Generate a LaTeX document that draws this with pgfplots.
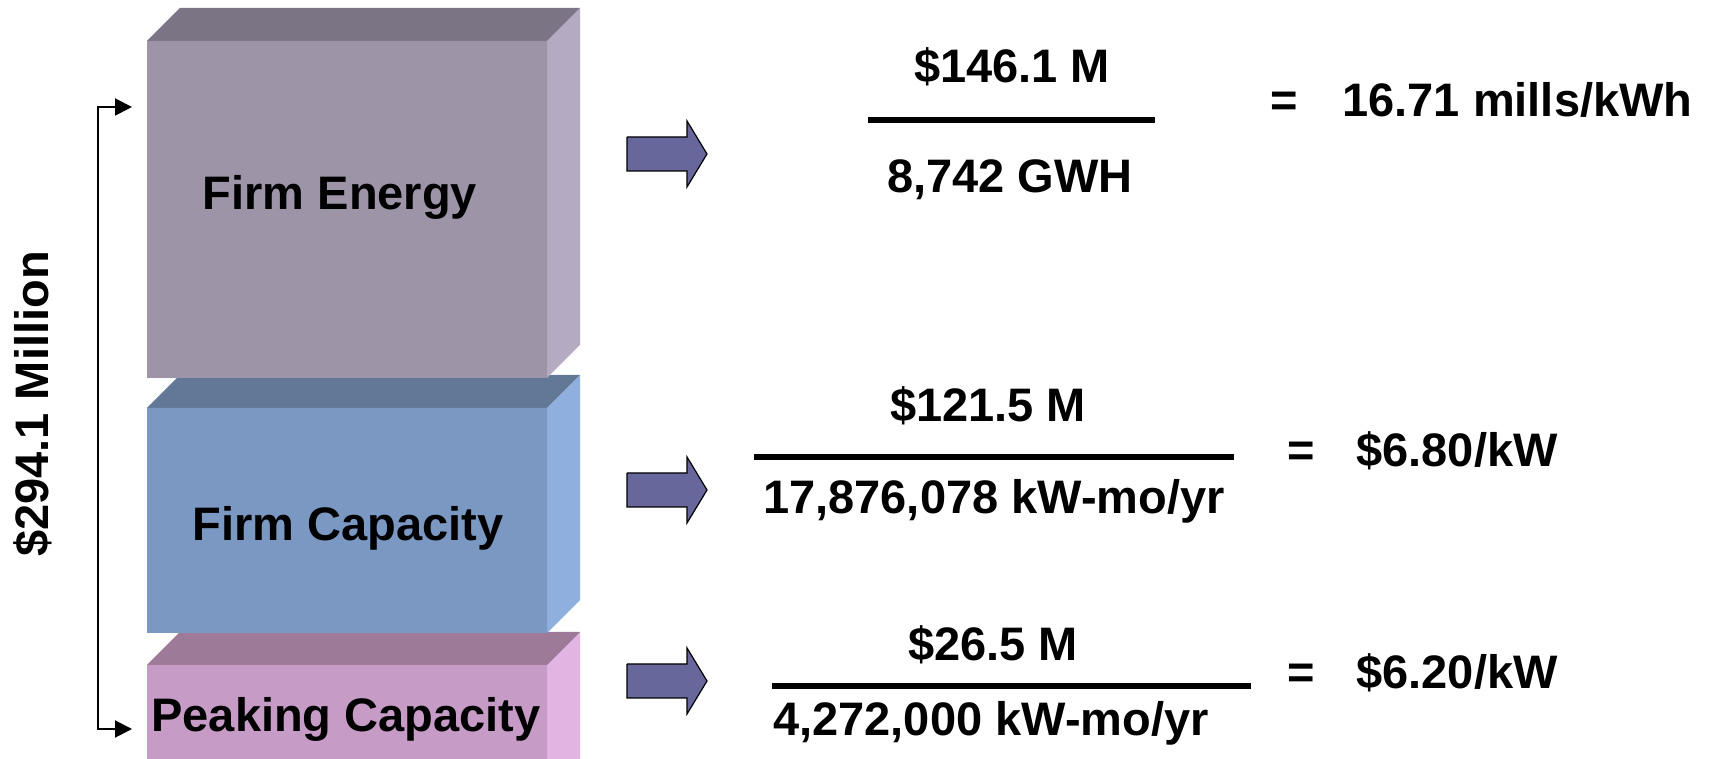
\documentclass[border=0pt]{standalone}
\usepackage{pgfplots}
\pgfplotsset{compat=1.18}
\usetikzlibrary{arrows.meta}
\usepackage{fontspec}
\setmainfont{Liberation Sans}

\definecolor{feFront}{HTML}{9D94A8}
\definecolor{feTop}{HTML}{7B7484}
\definecolor{feSide}{HTML}{B4AAC2}
\definecolor{fcFront}{HTML}{7B98C2}
\definecolor{fcTop}{HTML}{637897}
\definecolor{fcSide}{HTML}{8FAFDF}
\definecolor{pcFront}{HTML}{C69BC6}
\definecolor{pcTop}{HTML}{9C7A98}
\definecolor{pcSide}{HTML}{E2B4E2}
\definecolor{arrowcol}{HTML}{67679B}

\begin{document}
\begin{tikzpicture}[lab/.style={font=\fontsize{23.5}{28}\selectfont\bfseries, inner sep=0pt}]
\begin{axis}[
  x=0.5pt, y=0.5pt,
  xmin=0, xmax=1713, ymin=0, ymax=759,
  hide axis, clip=true, no markers,
]
% --- Peaking Capacity box
\addplot [fill=pcSide, draw=none] coordinates {(547,-40) (580,-7) (580,127) (547,94) (547,-40)};
\addplot [fill=pcTop, draw=none] coordinates {(147,94) (547,94) (580,127) (180,127) (147,94)};
\addplot [fill=pcFront, draw=none] coordinates {(147,-40) (547,-40) (547,94) (147,94) (147,-40)};
% --- Firm Capacity box
\addplot [fill=fcSide, draw=none] coordinates {(547,126) (580,159) (580,384) (547,351) (547,126)};
\addplot [fill=fcTop, draw=none] coordinates {(147,351) (547,351) (580,384) (180,384) (147,351)};
\addplot [fill=fcFront, draw=none] coordinates {(147,126) (547,126) (547,351) (147,351) (147,126)};
% --- Firm Energy box
\addplot [fill=feSide, draw=none] coordinates {(547,381) (580,414) (580,751) (547,718) (547,381)};
\addplot [fill=feTop, draw=none] coordinates {(147,718) (547,718) (580,751) (180,751) (147,718)};
\addplot [fill=feFront, draw=none] coordinates {(147,381) (547,381) (547,718) (147,718) (147,381)};

% --- bracket for the total
\addplot [black, line width=1pt, {Triangle[length=8.5pt,width=8.5pt]}-{Triangle[length=8.5pt,width=8.5pt]}]
  coordinates {(132,652) (98,652) (98,30) (132,30)};

% --- block arrows
\addplot [fill=arrowcol, draw=black, line width=0.6pt] coordinates {
  (627,622) (687,622) (687,638) (707,605) (687,572) (687,588) (627,588) (627,622)};
\addplot [fill=arrowcol, draw=black, line width=0.6pt] coordinates {
  (627,286) (687,286) (687,302) (707,269) (687,236) (687,252) (627,252) (627,286)};
\addplot [fill=arrowcol, draw=black, line width=0.6pt] coordinates {
  (627,95) (687,95) (687,111) (707,78) (687,45) (687,61) (627,61) (627,95)};

% --- fraction bars
\addplot [black, line width=3pt] coordinates {(868,639) (1155,639)};
\addplot [black, line width=3pt] coordinates {(754,302) (1234,302)};
\addplot [black, line width=3pt] coordinates {(772,73) (1251,73)};

% --- texts
\node [lab, anchor=base, rotate=90] at (49,355) {\$294.1 Million};
\node [lab, anchor=base] at (340,549) {Firm Energy};
\node [lab, anchor=base] at (348,218) {Firm Capacity};
\node [lab, anchor=base] at (346,27) {Peaking Capacity};

\node [lab, anchor=base] at (1012,676) {\$146.1 M};
\node [lab, anchor=base] at (1010,566) {8,742 GWH};
\node [lab, anchor=base] at (1284,642) {=};
\node [lab, anchor=base west] at (1342,642) {16.71 mills/kWh};

\node [lab, anchor=base] at (988,337) {\$121.5 M};
\node [lab, anchor=base] at (994,245) {17,876,078 kW-mo/yr};
\node [lab, anchor=base] at (1301,292) {=};
\node [lab, anchor=base west] at (1356,292) {\$6.80/kW};

\node [lab, anchor=base] at (993,98) {\$26.5 M};
\node [lab, anchor=base] at (991,23) {4,272,000 kW-mo/yr};
\node [lab, anchor=base] at (1301,70) {=};
\node [lab, anchor=base west] at (1356,70) {\$6.20/kW};
\end{axis}
\pgfresetboundingbox
\path (current axis.south west) rectangle (current axis.north east);
\end{tikzpicture}
\end{document}
